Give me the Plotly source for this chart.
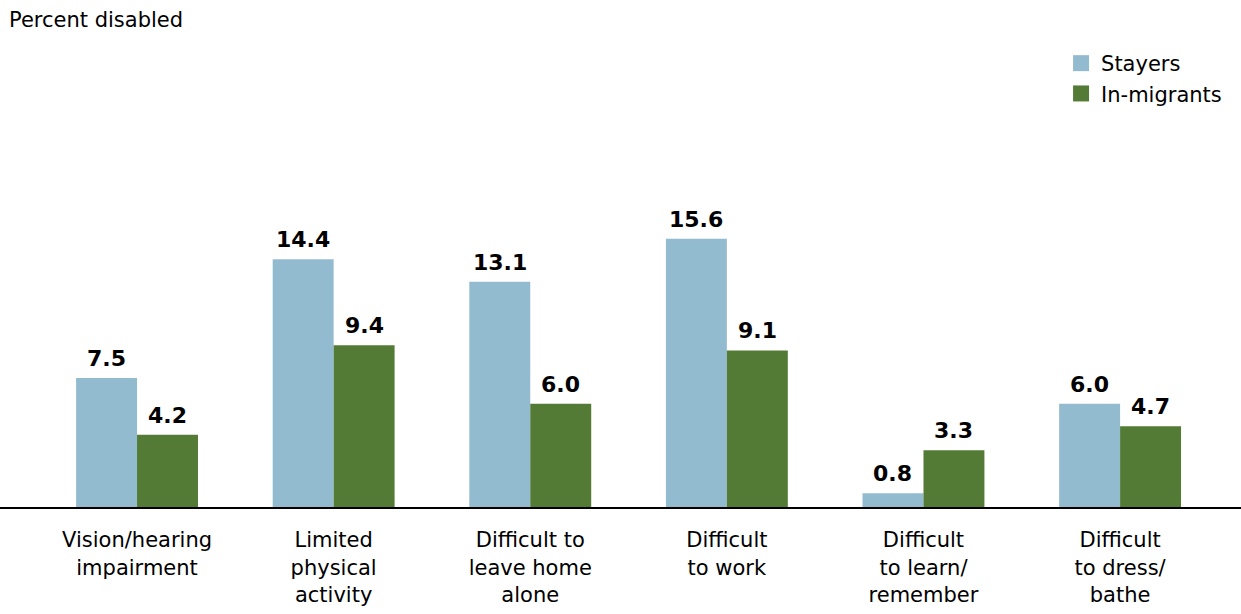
import plotly.graph_objects as go

categories = [
    "Vision/hearing<br>impairment",
    "Limited<br>physical<br>activity",
    "Difficult to<br>leave home<br>alone",
    "Difficult<br>to work",
    "Difficult<br>to learn/<br>remember",
    "Difficult<br>to dress/<br>bathe",
]
stayers = [7.5, 14.4, 13.1, 15.6, 0.8, 6.0]
in_migrants = [4.2, 9.4, 6.0, 9.1, 3.3, 4.7]
series_names = ["Stayers", "In-migrants"]

FONT = "DejaVu Sans"
COLORS = ["#93bbcf", "#537b36"]
LABEL_FONT = dict(family=FONT, size=22, color="black", weight="bold")
BAR_PX = 61  # width of one bar in pixels at this layout

fig = go.Figure()
for name, values, color in zip(series_names, [stayers, in_migrants], COLORS):
    fig.add_bar(
        name=name, x=categories, y=values, marker_color=color,
        marker_line_width=0, showlegend=False,
    )

# value labels above each bar
for side, values in zip([-1, 1], [stayers, in_migrants]):
    for cat, v in zip(categories, values):
        fig.add_annotation(
            x=cat, y=v, text=f"{v:.1f}", showarrow=False,
            xanchor="center", yanchor="bottom",
            xshift=side * BAR_PX / 2, yshift=5, font=LABEL_FONT,
        )

# square legend swatches
for name, color in zip(series_names, COLORS):
    fig.add_scatter(
        name=name, x=[None], y=[None], mode="markers",
        marker=dict(symbol="square", size=20, color=color), showlegend=True,
    )

fig.update_layout(
    width=1241, height=614,
    margin=dict(l=0, r=0, t=40, b=107, autoexpand=False),
    paper_bgcolor="white", plot_bgcolor="white",
    barmode="group", bargap=0.38, bargroupgap=0,
    font=dict(family=FONT, size=21, color="black"),
    showlegend=True,
    legend=dict(
        x=0.855, y=1 - 43 / 614, xref="paper", yref="container",
        xanchor="left", yanchor="top",
        font=dict(family=FONT, size=21), itemwidth=30,
        tracegroupgap=0, bgcolor="rgba(0,0,0,0)",
    ),
    xaxis=dict(
        range=[-0.697, 5.615], showline=True, linecolor="black", linewidth=2,
        ticks="", tickfont=dict(family=FONT, size=21), showgrid=False,
        ticklabelstandoff=13,
    ),
    yaxis=dict(range=[0, 27.15], visible=False, showgrid=False, zeroline=False),
)
fig.add_annotation(
    text="Percent disabled", xref="paper", yref="paper", x=0.006, y=(507 - 20) / 467,
    xanchor="left", yanchor="middle", showarrow=False,
    font=dict(family=FONT, size=21),
)

fig.write_html("out.html")
